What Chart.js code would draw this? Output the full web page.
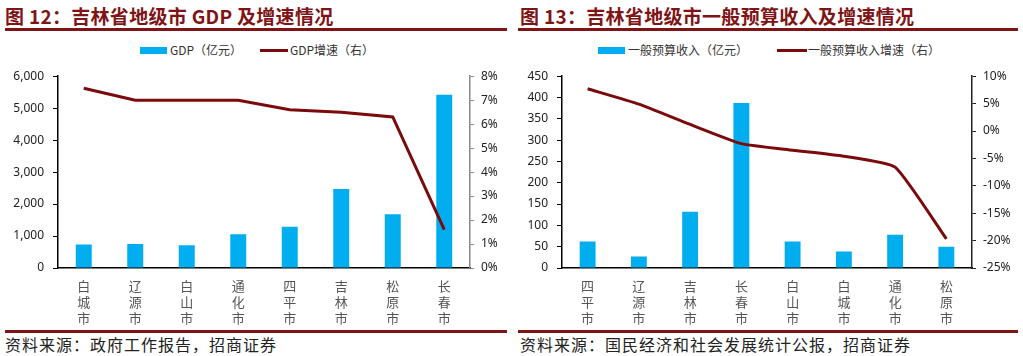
<!DOCTYPE html>
<html><head><meta charset="utf-8">
<script src="https://cdn.jsdelivr.net/npm/chart.js@4.4.1/dist/chart.umd.min.js"></script>
<style>
html,body{margin:0;padding:0;background:#fff;}
body{width:1023px;height:356px;position:relative;overflow:hidden;font-family:"Noto Sans CJK SC","Noto Sans",sans-serif;}
.title{position:absolute;top:2px;font-size:19px;color:#7f1416;font-weight:bold;white-space:nowrap;letter-spacing:0.3px;}
.rule{position:absolute;height:3px;background:#7f1416;}
.src{position:absolute;top:332px;font-size:16px;letter-spacing:1px;color:#222;white-space:nowrap;}
.leg{position:absolute;top:42px;font-size:12px;color:#333;white-space:nowrap;line-height:16px;}
.sw{position:absolute;}
canvas{position:absolute;}
</style></head><body>
<div class="title" style="left:5px">图 12：吉林省地级市 GDP 及增速情况</div>
<div class="rule" style="left:5px;width:502px;top:28px"></div>
<div class="title" style="left:520px">图 13：吉林省地级市一般预算收入及增速情况</div>
<div class="rule" style="left:518px;width:500px;top:28px"></div>

<div class="sw" style="left:140px;top:47px;width:27px;height:7px;background:#00aeef"></div>
<div class="leg" style="left:170px">GDP（亿元）</div>
<div class="sw" style="left:260px;top:49px;width:28px;height:3px;background:#7b0a0c"></div>
<div class="leg" style="left:290px">GDP增速（右）</div>

<div class="sw" style="left:598px;top:47px;width:27px;height:7px;background:#00aeef"></div>
<div class="leg" style="left:628px">一般预算收入（亿元）</div>
<div class="sw" style="left:777px;top:49px;width:30px;height:3px;background:#7b0a0c"></div>
<div class="leg" style="left:808px">一般预算收入增速（右）</div>

<canvas id="c1" width="510" height="270" style="left:0;top:60px;width:510px;height:270px"></canvas>
<canvas id="c2" width="513" height="270" style="left:510px;top:60px;width:513px;height:270px"></canvas>

<div class="rule" style="left:5px;width:502px;top:330px"></div>
<div class="rule" style="left:518px;width:500px;top:330px"></div>
<div class="src" style="left:5px">资料来源：政府工作报告，招商证券</div>
<div class="src" style="left:520px">资料来源：国民经济和社会发展统计公报，招商证券</div>

<script>
// Chart 12 data
const cities1 = ['白城市','辽源市','白山市','通化市','四平市','吉林市','松原市','长春市'];
const gdp = [737, 747, 715, 1052, 1292, 2470, 1682, 5420];
const gdpGrowth = [7.5, 7.0, 7.0, 7.0, 6.6, 6.5, 6.3, 1.6];
// Chart 13 data
const cities2 = ['四平市','辽源市','吉林市','长春市','白山市','白城市','通化市','松原市'];
const revenue = [62, 27, 132, 387, 62, 39, 78, 50];
const revenueGrowth = [7.7, 4.9, 1.2, -2.3, -3.5, -4.6, -6.6, -19.7];

const BLUE = '#00aeef', RED = '#7b0a0c';
const tickFont = {family:'"Noto Sans","Noto Sans CJK SC",sans-serif', size:12};
const catFont = {family:'"Noto Sans CJK SC",sans-serif', size:13, lineHeight:1.23};

function vert(s){ return s.split(''); }

function makeChart(id, cats, bars, line, left, right, barName, lineName, tension, rightColor){
  new Chart(document.getElementById(id), {
    data: {
      labels: cats.map(vert),
      datasets: [
        {type:'line', label:lineName, data:line, yAxisID:'y1', borderColor:RED, borderWidth:3,
         pointRadius:0, fill:false, tension:tension, order:0},
        {type:'bar', label:barName, data:bars, yAxisID:'y', backgroundColor:BLUE,
         barPercentage:0.31, categoryPercentage:1, order:1}
      ]
    },
    options: {
      responsive:false, animation:false, devicePixelRatio:1,
      layout:{padding:{top:7, bottom:0, left:0, right:0}},
      plugins:{legend:{display:false}, tooltip:{enabled:false}},
      scales:{
        x:{
          grid:{display:false, drawTicks:false},
          border:{display:true, color:'#000', width:1.5},
          ticks:{font:catFont, color:'#555', padding:10, maxRotation:0, autoSkip:false},
          afterFit:s=>{s.height=62;}
        },
        y:{
          position:'left', min:left.min, max:left.max,
          grid:{drawOnChartArea:false, drawTicks:true, tickLength:5, color:'#000'},
          border:{display:true, color:'#000', width:1.5},
          ticks:{stepSize:left.step, font:tickFont, color:'#222', padding:9,
                 callback:v=>left.fmt(v)},
          afterFit:s=>{s.width=left.w;}
        },
        y1:{
          position:'right', min:right.min, max:right.max,
          grid:{drawOnChartArea:false, drawTicks:true, tickLength:4, color:rightColor},
          border:{display:true, color:rightColor, width:1.5},
          ticks:{stepSize:right.step, font:tickFont, color:'#222', padding:7,
                 callback:v=>v+'%'},
          afterFit:s=>{s.width=right.w;}
        }
      }
    }
  });
}

makeChart('c1', cities1, gdp, gdpGrowth,
  {min:0, max:6000, step:1000, w:58, fmt:v=>v.toLocaleString('en-US')},
  {min:0, max:8, step:1, w:40}, 'GDP（亿元）', 'GDP增速（右）', 0, '#888');
makeChart('c2', cities2, revenue, revenueGrowth,
  {min:0, max:450, step:50, w:52, fmt:v=>String(v)},
  {min:-25, max:10, step:5, w:51}, '一般预算收入（亿元）', '一般预算收入增速（右）', 0.15, '#222');
</script>
</body></html>
